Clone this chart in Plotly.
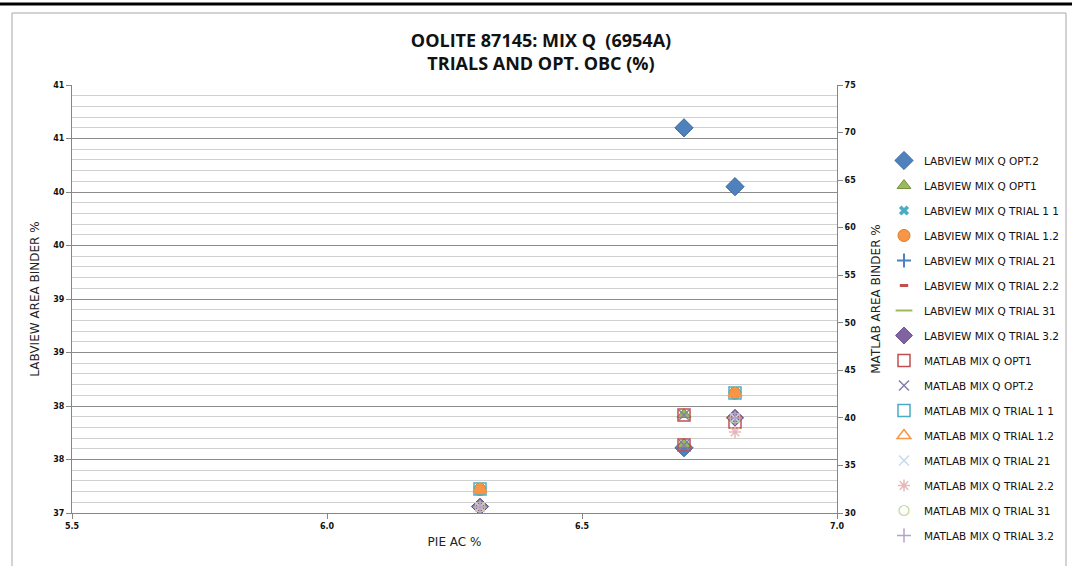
import plotly.graph_objects as go

# ---------------- data ----------------
X_AXIS_TICKS = [5.5, 6.0, 6.5, 7.0]
X_AXIS_TEXT = ["5.5", "6.0", "6.5", "7.0"]
LEFT_TICKS = [37.0, 37.5, 38.0, 38.5, 39.0, 39.5, 40.0, 40.5, 41.0]
LEFT_TEXT = ["37", "38", "38", "39", "39", "40", "40", "41", "41"]
RIGHT_TICKS = [30, 35, 40, 45, 50, 55, 60, 65, 70, 75]
RIGHT_TEXT = ["30", "35", "40", "45", "50", "55", "60", "65", "70", "75"]

# LABVIEW series (left axis)
LV_OPT2_X = [6.7, 6.8, 6.7]
LV_OPT2_Y = [40.60, 40.05, 37.61]
LV_OPT1_X = [6.7, 6.7]
LV_OPT1_Y = [37.92, 37.64]
LV_T11_X = [6.3, 6.8]
LV_T11_Y = [37.22, 38.12]
LV_T12_X = [6.3, 6.8]
LV_T12_Y = [37.22, 38.12]
LV_T21_X = [6.3, 6.8]
LV_T21_Y = [37.06, 37.89]
LV_T22_X = [6.3, 6.8]
LV_T22_Y = [37.06, 37.89]
LV_T31_X = [6.3, 6.8]
LV_T31_Y = [37.06, 37.89]
LV_T32_X = [6.3, 6.8]
LV_T32_Y = [37.06, 37.89]

# MATLAB series (right axis)
ML_OPT1_X = [6.7, 6.7, 6.8]
ML_OPT1_Y = [40.30, 37.15, 39.57]
ML_OPT2_X = [6.7, 6.7]
ML_OPT2_Y = [40.30, 37.15]
ML_T11_X = [6.3, 6.8]
ML_T11_Y = [32.52, 42.62]
ML_T12_X = [6.3, 6.8]
ML_T12_Y = [32.52, 42.62]
ML_T21_X = [6.3, 6.8]
ML_T21_Y = [30.63, 39.99]
ML_T22_X = [6.3, 6.8]
ML_T22_Y = [30.63, 38.52]
ML_T31_X = [6.3, 6.8]
ML_T31_Y = [30.63, 39.99]
ML_T32_X = [6.3, 6.8]
ML_T32_Y = [30.63, 39.99]

SERIES_NAMES = [
    "LABVIEW MIX Q OPT.2", "LABVIEW MIX Q OPT1", "LABVIEW MIX Q TRIAL 1 1",
    "LABVIEW MIX Q TRIAL 1.2", "LABVIEW MIX Q TRIAL 21", "LABVIEW MIX Q TRIAL 2.2",
    "LABVIEW MIX Q TRIAL 31", "LABVIEW MIX Q TRIAL 3.2",
    "MATLAB MIX Q OPT1", "MATLAB MIX Q OPT.2", "MATLAB MIX Q TRIAL 1 1",
    "MATLAB MIX Q TRIAL 1.2", "MATLAB MIX Q TRIAL 21", "MATLAB MIX Q TRIAL 2.2",
    "MATLAB MIX Q TRIAL 31", "MATLAB MIX Q TRIAL 3.2",
]

series_data = [
    (LV_OPT2_X, LV_OPT2_Y, "y"), (LV_OPT1_X, LV_OPT1_Y, "y"),
    (LV_T11_X, LV_T11_Y, "y"), (LV_T12_X, LV_T12_Y, "y"),
    (LV_T21_X, LV_T21_Y, "y"), (LV_T22_X, LV_T22_Y, "y"),
    (LV_T31_X, LV_T31_Y, "y"), (LV_T32_X, LV_T32_Y, "y"),
    (ML_OPT1_X, ML_OPT1_Y, "y2"), (ML_OPT2_X, ML_OPT2_Y, "y2"),
    (ML_T11_X, ML_T11_Y, "y2"), (ML_T12_X, ML_T12_Y, "y2"),
    (ML_T21_X, ML_T21_Y, "y2"), (ML_T22_X, ML_T22_Y, "y2"),
    (ML_T31_X, ML_T31_Y, "y2"), (ML_T32_X, ML_T32_Y, "y2"),
]

# marker styles: (symbol, size, fill color, line color, line width)
styles = [
    ("diamond", 14, "#4F81BD", "#3A679C", 1),
    ("triangle-up", 12, "#9BBB59", "#76923C", 1),
    ("x", 9, "#4BACC6", "#4BACC6", 0),
    ("circle", 12, "#F79646", "#E07A25", 1),
    ("cross-thin-open", 10, "#4F81BD", "#4F81BD", 2),
    ("line-ew-open", 6, "#C0504D", "#C0504D", 3),
    ("line-ew-open", 12, "#9BBB59", "#9BBB59", 2),
    ("diamond", 13, "#8064A2", "#6A5190", 1),
    ("square-open", 12, "#C0504D", "#C0504D", 1.5),
    ("x-thin-open", 10, "#8A7BAE", "#8A7BAE", 1.5),
    ("square-open", 12, "#4BACC6", "#4BACC6", 1.5),
    ("triangle-up-open", 12, "#F79646", "#F79646", 1.5),
    ("x-thin-open", 10, "#C6D9F1", "#C6D9F1", 1.5),
    ("asterisk-open", 10, "#E6B9B8", "#E6B9B8", 1.5),
    ("circle-open", 10, "#C3D69B", "#C3D69B", 1.2),
    ("cross-thin-open", 10, "#B3A2C7", "#B3A2C7", 1.5),
]

fig = go.Figure()
for i, (name, (xs, ys, yax), st) in enumerate(zip(SERIES_NAMES, series_data, styles)):
    sym, size, fc, lc, lw = st
    fig.add_trace(go.Scatter(
        x=xs, y=ys, yaxis=yax, mode="markers", name=name,
        legendgroup=f"g{i}",
        marker=dict(symbol=sym, size=size, color=fc,
                    line=dict(color=lc, width=lw)),
    ))

# plot area in px: x 72..837, y 85..513
L, R, T, B = 72, 837, 85, 513
W, H = 1072, 566
pw, ph = R - L, B - T

def px_x(p):
    return (p - L) / pw

def px_y(p):
    return (B - p) / ph

tick_font = dict(family="DejaVu Sans", size=8, color="#111111", weight="bold")
axis_title_font = dict(family="DejaVu Sans", size=12, color="#222222")

fig.update_layout(
    width=W, height=H,
    margin=dict(l=L, r=W - R, t=T, b=H - B, autoexpand=False),
    paper_bgcolor="white", plot_bgcolor="white",
    title=dict(
        text="<b>OOLITE 87145: MIX Q  (6954A)<br>TRIALS AND OPT. OBC (%)</b>",
        font=dict(family="Open Sans", size=18, color="#111111"),
        x=541 / W, xanchor="center",
        y=1 - 47 / H, yanchor="middle", yref="container",
    ),
    xaxis=dict(
        range=[5.5, 7.0], tickvals=X_AXIS_TICKS, ticktext=X_AXIS_TEXT,
        showgrid=False, zeroline=False, automargin=False,
        showline=True, linecolor="#868686", linewidth=1,
        ticks="outside", ticklen=5, tickcolor="#868686",
        tickfont=tick_font,
        title=dict(text="PIE AC %", font=axis_title_font, standoff=8),
    ),
    yaxis=dict(
        range=[37, 41], tickvals=LEFT_TICKS, ticktext=LEFT_TEXT,
        showgrid=True, gridcolor="#8C8C8C", gridwidth=1,
        minor=dict(dtick=0.1, tick0=37, showgrid=True, gridcolor="#D0D0D0",
                   gridwidth=1, ticks=""),
        zeroline=False, automargin=False,
        showline=True, linecolor="#868686", linewidth=1,
        ticks="outside", ticklen=5, tickcolor="#868686",
        tickfont=tick_font,
        title=dict(text="LABVIEW AREA BINDER %", font=axis_title_font, standoff=11),
    ),
    yaxis2=dict(
        range=[30, 75], tickvals=RIGHT_TICKS, ticktext=RIGHT_TEXT,
        overlaying="y", side="right",
        showgrid=False, zeroline=False, automargin=False,
        showline=True, linecolor="#868686", linewidth=1,
        ticks="outside", ticklen=5, tickcolor="#868686",
        tickfont=tick_font,
        title=dict(text="MATLAB AREA BINDER %", font=axis_title_font, standoff=16),
    ),
    legend=dict(
        x=px_x(884), y=px_y(146), xanchor="left", yanchor="top",
        traceorder="grouped", tracegroupgap=6,
        font=dict(family="DejaVu Sans", size=10.5, color="#111111"),
        bgcolor="rgba(0,0,0,0)", borderwidth=0,
    ),
    showlegend=True,
)

# chart border and top rule
fig.add_shape(type="rect", xref="paper", yref="paper",
              x0=px_x(12), x1=px_x(1066), y0=px_y(600), y1=px_y(13),
              line=dict(color="#A6A6A6", width=1), fillcolor="rgba(0,0,0,0)",
              layer="below")
fig.add_shape(type="line", xref="paper", yref="paper",
              x0=px_x(0), x1=px_x(1072), y0=px_y(4), y1=px_y(4),
              line=dict(color="#000000", width=3))

fig.write_html("out.html", config={"displayModeBar": False},
               post_script="document.body.style.margin='0';document.body.style.overflow='hidden';")
